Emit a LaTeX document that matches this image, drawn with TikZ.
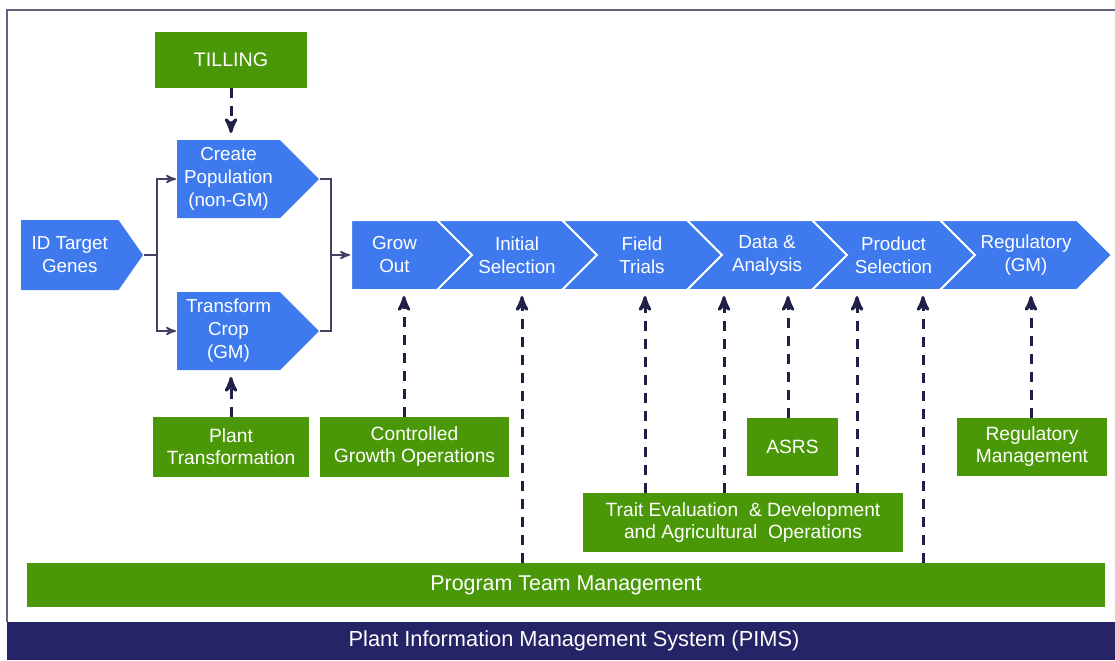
\documentclass[tikz,border=0pt]{standalone}
\usepackage{fontspec}
\setmainfont{Liberation Sans}
\usetikzlibrary{arrows,shapes.symbols}

\definecolor{pimsblue}{RGB}{62,122,238}
\definecolor{pimsgreen}{RGB}{74,152,8}
\definecolor{pimsnavy}{RGB}{36,36,102}
\definecolor{pimsdark}{RGB}{32,32,72}

\begin{document}
\begin{tikzpicture}[x=0.5pt,y=-0.5pt,>=stealth',
  every node/.style={text=white,align=center,inner sep=0pt},
  greenbox/.style={fill=pimsgreen,font=\fontsize{9.6}{11}\selectfont},
  stage/.style={shape=signal,signal to=east,signal pointer angle=90,fill=pimsblue,draw=white,line width=1pt,minimum height=35pt,font=\fontsize{9.4}{11.5}\selectfont},
  link/.style={->,draw=pimsdark!85,line width=0.8pt},
  feed/.style={->,draw=pimsdark,line width=1.5pt,dash pattern=on 5pt off 4pt,shorten >=3pt}]

\useasboundingbox (0,0) rectangle (1115,660);
\draw[pimsdark!70,line width=0.6pt] (7,622) -- (7,10) -- (1115,10);

% front end
\node[stage,draw=none,signal pointer angle=110,minimum width=61pt,anchor=west] (idt) at (20,255) {ID Target\\Genes};
\node[stage,draw=none,minimum width=71pt,minimum height=39pt,anchor=west] (create) at (176,179) {Create\\Population\\(non-GM)};
\node[stage,draw=none,minimum width=71pt,minimum height=39pt,anchor=west] (transf) at (176,331) {Transform\\Crop\\(GM)};

% pipeline
\node[stage,minimum width=61pt,anchor=west] (grow) at (350,255) {Grow\\Out};
\node[stage,signal from=west,minimum width=80pt] (init) at (517,255) {Initial\\Selection};
\node[stage,signal from=west,minimum width=80pt] (field) at (642,255) {Field\\Trials};
\node[stage,signal from=west,minimum width=80pt] (data) at (767,255) {Data \&\\Analysis};
\node[stage,signal from=west,minimum width=81.5pt] (prod) at (893.5,255) {Product\\Selection};
\node[stage,signal from=west,minimum width=86pt] (reg) at (1026,255) {Regulatory\\(GM)};

% support boxes
\node[greenbox,minimum width=76pt,minimum height=28pt,font=\fontsize{9.8}{11}\selectfont] (till) at (231,60) {TILLING};
\node[greenbox,minimum width=78pt,minimum height=30pt] (ptrans) at (231,447) {Plant\\Transformation};
\node[greenbox,minimum width=94.5pt,minimum height=30pt] (ctrl) at (414.5,447) {Controlled\\Growth Operations};
\node[greenbox,minimum width=45.5pt,minimum height=29pt] (asrs) at (792.5,447) {ASRS};
\node[greenbox,minimum width=75pt,minimum height=29pt] (regm) at (1032,447) {Regulatory\\Management};
\node[greenbox,minimum width=160pt,minimum height=29.5pt] (trait) at (743,522.5) {Trait Evaluation \ \& Development\\and Agricultural \ Operations};
\node[greenbox,minimum width=539pt,minimum height=22pt,font=\fontsize{10.7}{12}\selectfont] (prog) at (566,585) {Program Team Management};
\node[fill=pimsnavy,minimum width=554pt,minimum height=19pt] (pims) at (561,641) {};
\node[font=\fontsize{10.9}{12}\selectfont] (pimstext) at (574,641) {Plant Information Management System (PIMS)};

% arrow ends under the pipeline
\coordinate (growin) at (404,290);
\coordinate (initin) at (522,290);
\coordinate (fieldin) at (645,290);
\coordinate (datain) at (724,290);
\coordinate (asrsin) at (788,290);
\coordinate (prodin) at (857,290);
\coordinate (prodin2) at (923,290);
\coordinate (regin) at (1031,290);
\coordinate (split) at (157,255);
\coordinate (join) at (331,255);

\draw[link] (idt.east) -- (split) |- (create.west);
\draw[link] (split) |- (transf.west);
\draw[link,-] (create.east) -| (join) |- (transf.east);
\draw[link] (join) -- (grow.west);

\draw[feed] (till.south) -- (till.south |- create.north);
\draw[feed] (ptrans.north) -- (ptrans.north |- transf.south);
\draw[feed] (ctrl.north -| growin) -- (growin);
\draw[feed] (prog.north -| initin) -- (initin);
\draw[feed] (trait.north -| fieldin) -- (fieldin);
\draw[feed] (trait.north -| datain) -- (datain);
\draw[feed] (asrs.north -| asrsin) -- (asrsin);
\draw[feed] (trait.north -| prodin) -- (prodin);
\draw[feed] (prog.north -| prodin2) -- (prodin2);
\draw[feed] (regm.north -| regin) -- (regin);

\end{tikzpicture}
\end{document}
